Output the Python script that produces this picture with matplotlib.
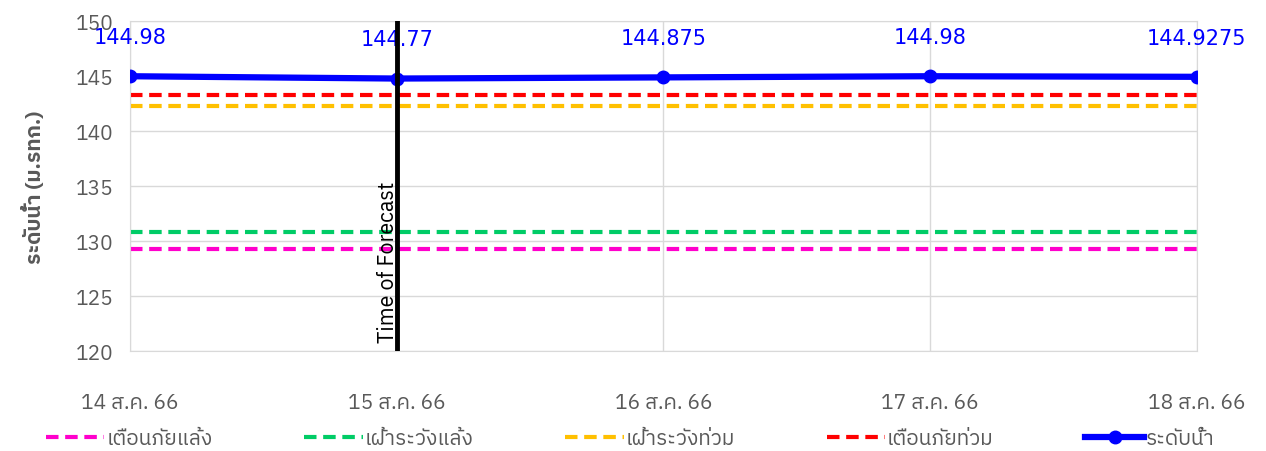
import matplotlib
matplotlib.use('Agg')
import matplotlib.pyplot as plt
from matplotlib import font_manager

# look for a font that can draw Thai
thai = [f.name for f in font_manager.fontManager.ttflist if 'thai' in f.name.lower() or 'tahoma' in f.name.lower()]
fams = sorted(set(thai)) + ['DejaVu Sans']
plt.rcParams['font.family'] = fams

dates = ['14 ส.ค. 66', '15 ส.ค. 66', '16 ส.ค. 66', '17 ส.ค. 66', '18 ส.ค. 66']
level = [144.98, 144.77, 144.875, 144.98, 144.9275]
level_labels = ['144.98', '144.77', '144.875', '144.98', '144.9275']
warn_dry = 129.3
watch_dry = 130.8
watch_flood = 142.3
warn_flood = 143.3
forecast_idx = 1

x = list(range(len(dates)))

fig = plt.figure(figsize=(12.66, 4.52), dpi=100)
ax = fig.add_axes([0.1027, 0.2212, 0.8425, 0.7301])

dash = (0, (3, 1.6))
ax.plot(x, [warn_dry] * len(x), color='#ff00cc', lw=3, linestyle=dash, label='เตือนภัยแล้ง')
ax.plot(x, [watch_dry] * len(x), color='#00cc66', lw=3, linestyle=dash, label='เฝ้าระวังแล้ง')
ax.plot(x, [watch_flood] * len(x), color='#ffc000', lw=3, linestyle=dash, label='เฝ้าระวังท่วม')
ax.plot(x, [warn_flood] * len(x), color='#ff0000', lw=3, linestyle=dash, label='เตือนภัยท่วม')
ax.plot(x, level, color='#0000ff', lw=4.5, marker='o', markersize=9, label='ระดับน้ำ', zorder=5)

for xi, yi, t in zip(x, level, level_labels):
    ax.annotate(t, (xi, yi), xytext=(0, 21), textcoords='offset points', ha='center', va='bottom',
                color='#0000ff', fontsize=15, family=['DejaVu Sans'])

ax.axvline(forecast_idx, color='black', lw=3.5, zorder=6)
ax.text(forecast_idx - 0.032, 120.8, 'Time of Forecast', rotation=90, ha='center', va='bottom',
        fontsize=15.5, color='black')

ax.set_xlim(0, 4)
ax.set_ylim(120, 150)
ax.set_yticks(range(120, 151, 5))
ax.set_xticks(x)
ax.set_xticklabels(dates)
ax.tick_params(axis='x', length=0, pad=30, labelsize=15, colors='#595959')
ax.tick_params(axis='y', length=0, pad=12, labelsize=15, colors='#595959')
ax.grid(True, color='#d9d9d9', lw=1)
ax.set_axisbelow(True)
for s in ax.spines.values():
    s.set_color('#d9d9d9')

ax.set_ylabel('ระดับน้ำ (ม.รทก.)', fontsize=15, fontweight='bold', color='#595959', labelpad=22)

ax.legend(loc='center', bbox_to_anchor=(0.469, -0.265), ncol=5, frameon=False,
          fontsize=15, handlelength=2.8, handletextpad=0.1, columnspacing=4.4, labelcolor='#595959')

fig.savefig('out.png', dpi=100)
